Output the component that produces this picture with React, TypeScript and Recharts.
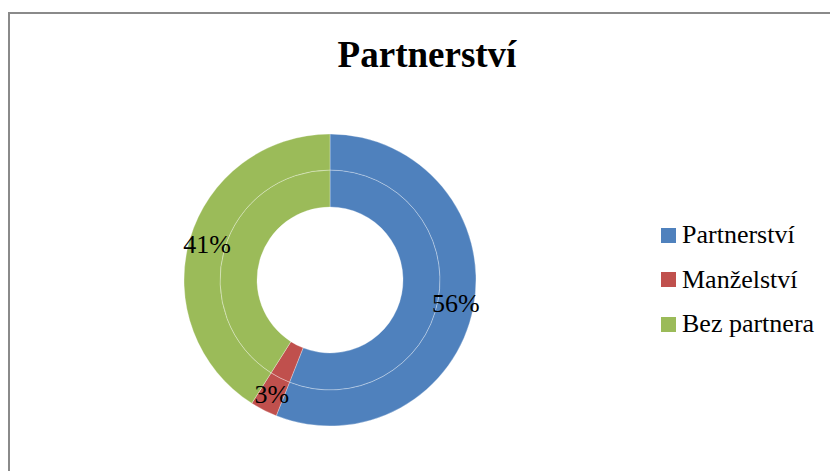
import { PieChart, Pie, Cell, Legend } from "recharts";

const CATEGORIES = ["Partnerství", "Manželství", "Bez partnera"];
const VALUES = [56, 3, 41];
const COLORS = ["#4F81BD", "#C0504D", "#9BBB59"];

const data = CATEGORIES.map((name, i) => ({ name, value: VALUES[i] }));

const FONT = '"Liberation Serif", "Times New Roman", serif';
const RADIAN = Math.PI / 180;

function renderLabel(props: any) {
  const { cx, cy, midAngle, innerRadius, outerRadius, percent } = props;
  const r = (innerRadius + outerRadius) / 2;
  const x = cx + r * Math.cos(-midAngle * RADIAN);
  const y = cy + r * Math.sin(-midAngle * RADIAN);
  return (
    <text
      x={x}
      y={y}
      textAnchor="middle"
      dominantBaseline="central"
      fontFamily={FONT}
      fontSize={26}
      fill="#000"
    >
      {`${Math.round(percent * 100)}%`}
    </text>
  );
}

function LegendContent() {
  return (
    <div style={{ fontFamily: FONT }}>
      {CATEGORIES.map((name, i) => (
        <div key={name} style={{ display: "flex", alignItems: "center", height: 44.5 }}>
          <span style={{ width: 15, height: 15, background: COLORS[i], marginRight: 6, display: "inline-block" }} />
          <span style={{ fontSize: 26, lineHeight: "26px", color: "#000" }}>{name}</span>
        </div>
      ))}
    </div>
  );
}

export default function App() {
  return (
    <div style={{ position: "absolute", left: 0, top: 0, width: 830, height: 471, overflow: "hidden", background: "#fff" }}>
      <div
        style={{
          position: "absolute",
          left: 8,
          top: 12,
          width: 900,
          height: 600,
          border: "2px solid #8a8a8a",
          boxSizing: "border-box",
        }}
      />
      <div
        style={{
          position: "absolute",
          left: 0,
          top: 31,
          width: 854,
          textAlign: "center",
          fontFamily: FONT,
          fontWeight: "bold",
          fontSize: 37,
          lineHeight: "48px",
        }}
      >
        Partnerství
      </div>
      <div style={{ position: "absolute", left: 0, top: 0 }}>
        <PieChart width={830} height={471} margin={{ top: 0, right: 0, bottom: 0, left: 0 }}>
          <Pie
            data={data}
            dataKey="value"
            nameKey="name"
            cx={330}
            cy={280}
            innerRadius={73}
            outerRadius={110}
            startAngle={90}
            endAngle={-270}
            stroke="#ffffff"
            strokeWidth={0.6}
            strokeOpacity={0.5}
            legendType="none"
            isAnimationActive={false}
          >
            {data.map((d, i) => (
              <Cell key={d.name} fill={COLORS[i]} />
            ))}
          </Pie>
          <Pie
            data={data}
            dataKey="value"
            nameKey="name"
            cx={330}
            cy={280}
            innerRadius={110}
            outerRadius={146}
            startAngle={90}
            endAngle={-270}
            stroke="#ffffff"
            strokeWidth={0.6}
            strokeOpacity={0.5}
            label={renderLabel}
            labelLine={false}
            isAnimationActive={false}
          >
            {data.map((d, i) => (
              <Cell key={d.name} fill={COLORS[i]} />
            ))}
          </Pie>
          <Legend
            content={<LegendContent />}
            wrapperStyle={{ left: 661, top: 213, width: 170 }}
          />
        </PieChart>
      </div>
    </div>
  );
}
